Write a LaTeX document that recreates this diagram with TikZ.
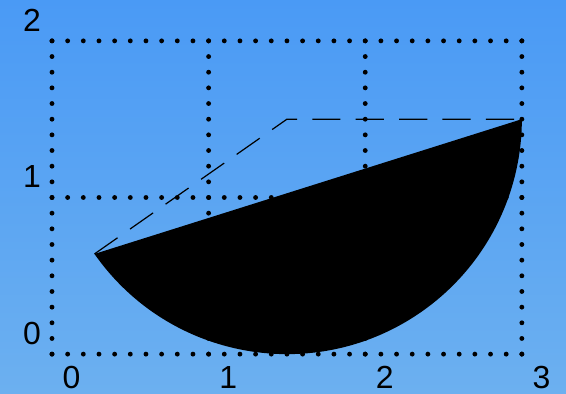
\documentclass[tikz,border=0pt]{standalone}
\usepackage{fontspec}
\setmainfont{Liberation Sans}
\usetikzlibrary{calc}
\definecolor{bgtop}{RGB}{74,154,245}
\definecolor{bgbot}{RGB}{108,176,240}
\tikzset{
  griddot/.style={fill=black},
  dashline/.style={line width=0.22pt, dash pattern=on 0.18cm off 0.097cm},
  lbl/.style={font=\fontsize{5.8}{7}\selectfont, inner sep=0pt}
}
\begin{document}
\begin{tikzpicture}
\shade[top color=bgtop, bottom color=bgbot] (-0.332,-0.249) rectangle (3.282,2.261);
\useasboundingbox (-0.332,-0.249) rectangle (3.282,2.261);
\foreach \gx in {0,1,2,3} \foreach \k in {0,...,20}
  \fill[griddot] (\gx,\k/10) circle[radius=0.0155];
\foreach \gy in {0,1,2} \foreach \k in {0,...,30}
  \fill[griddot] (\k/10,\gy) circle[radius=0.0155];
\coordinate (C) at (1.5,1.5);
\coordinate (A) at ($(C)+(215:1.5)$);
\coordinate (B) at (3,1.5);
\fill[black] (A) arc[start angle=215, end angle=360, radius=1.5] -- cycle;
\draw[dashline] (A) -- (C) -- (B);
\foreach \x in {0,1,2,3} \node[lbl] (x\x) at (\x+0.125,-0.147) {\x};
\foreach \y in {0,1,2} \node[lbl] (y\y) at (-0.128,\y+0.134) {\y};
\end{tikzpicture}
\end{document}
